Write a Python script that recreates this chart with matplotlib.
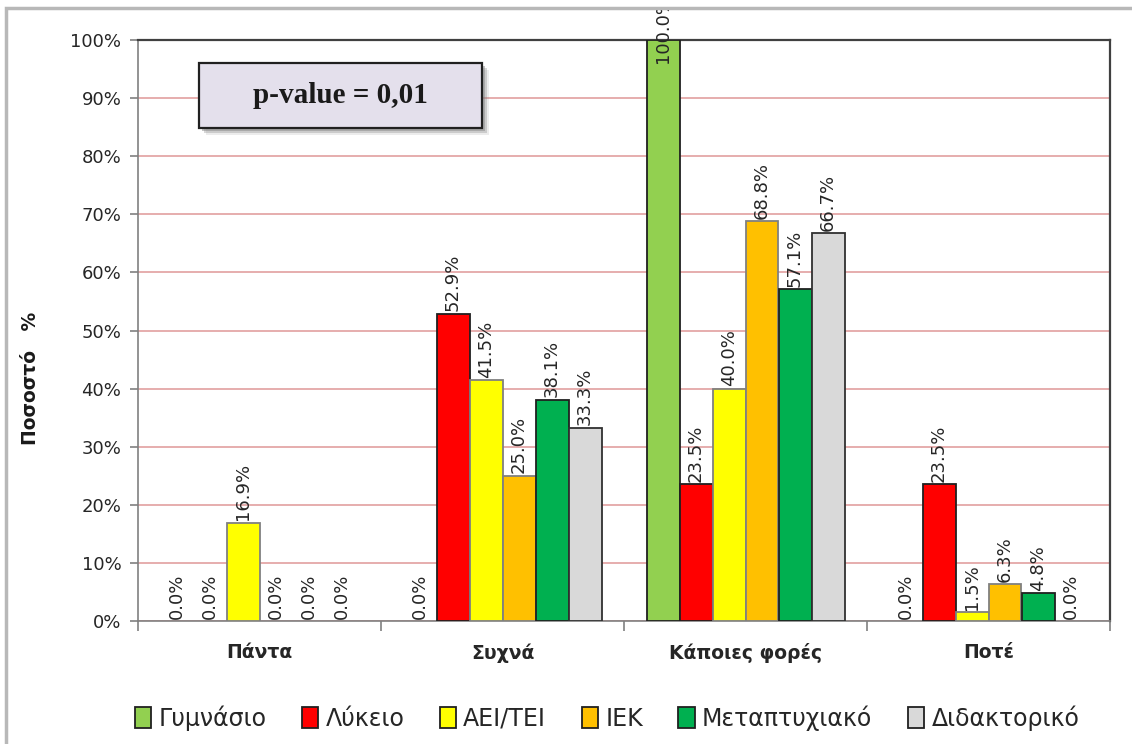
import numpy as np
import matplotlib.pyplot as plt
from matplotlib.patches import Rectangle
from matplotlib.ticker import MultipleLocator, FuncFormatter
from matplotlib.transforms import Bbox, TransformedBbox

categories = ["Πάντα", "Συχνά", "Κάποιες φορές", "Ποτέ"]
series_names = ["Γυμνάσιο", "Λύκειο", "ΑΕΙ/ΤΕΙ", "ΙΕΚ", "Μεταπτυχιακό", "Διδακτορικό"]
gymnasio = [0.0, 0.0, 100.0, 0.0]
lykeio = [0.0, 52.9, 23.5, 23.5]
aei_tei = [16.9, 41.5, 40.0, 1.5]
iek = [0.0, 25.0, 68.8, 6.3]
metaptyxiako = [0.0, 38.1, 57.1, 4.8]
didaktoriko = [0.0, 33.3, 66.7, 0.0]
series_values = [gymnasio, lykeio, aei_tei, iek, metaptyxiako, didaktoriko]

colors = ["#92d050", "#ff0000", "#ffff00", "#ffc000", "#00b050", "#d9d9d9"]
edges = ["#202020", "#202020", "#808080", "#808080", "#202020", "#303030"]

fig = plt.figure(figsize=(11.32, 7.44), dpi=100)
ax = fig.add_axes([138 / 1132, 1 - 621 / 744, 972 / 1132, 581 / 744])

# outer chart frame (right/bottom edges fall outside the canvas)
frame_top = 1 - 8 / 744
fig.patches.append(Rectangle((6 / 1132, -0.1), 1.2, frame_top + 0.1,
                             transform=fig.transFigure, fill=False,
                             edgecolor="#b8b8b8", linewidth=2.5))
frame_clip = TransformedBbox(Bbox([[0, 0], [1, frame_top]]), fig.transFigure)

x = np.arange(len(categories))
width = 33 / 243
for i, (name, vals) in enumerate(zip(series_names, series_values)):
    pos = x + (i - 2.5) * width
    vals = np.array(vals)
    # zero-height bars would leave a stray edge line on the axis
    shown = vals > 0
    ax.bar(pos[shown], vals[shown], width, color=colors[i], edgecolor=edges[i],
           linewidth=1.3, label=name, zorder=3)
    for px, v in zip(pos, vals):
        # labels that would run off the top start inside the bar end
        y = v - 4 if v > 90 else v + 0.4
        t = ax.text(px, y, f"{v:.1f}%", rotation=90, ha="center",
                    va="bottom", fontsize=13, color="#262626", zorder=4)
        t.set_clip_on(True)
        t.set_clip_box(frame_clip)

ax.set_xlim(-0.5, 3.5)
ax.set_ylim(0, 100)
ax.yaxis.set_major_locator(MultipleLocator(10))
ax.yaxis.set_major_formatter(FuncFormatter(lambda v, p: f"{v:.0f}%"))
ax.grid(axis="y", color="#e2a0a0", linewidth=1.2, zorder=0)
ax.set_axisbelow(True)

ax.set_xticks([-0.5, 0.5, 1.5, 2.5, 3.5])
ax.set_xticklabels([])
ax.tick_params(axis="x", length=7, color="#808080", width=1.2)
ax.tick_params(axis="y", length=6, color="#808080", width=1.2,
               labelsize=13, labelcolor="#262626", pad=6)
for i, cat in enumerate(categories):
    ax.text(i, -5.5, cat, ha="center", va="center", fontsize=13.5,
            fontweight="bold", color="#262626")

for side in ["top", "right"]:
    ax.spines[side].set_color("#404040")
    ax.spines[side].set_linewidth(1.6)
for side in ["left", "bottom"]:
    ax.spines[side].set_color("#808080")
    ax.spines[side].set_linewidth(1.2)

fig.text(30 / 1132, 1 - 378 / 744, "Ποσοστό   %", rotation=90, ha="center",
         va="center", fontsize=13.5, fontweight="bold", color="#1a1a1a")

# p-value annotation box with a drop shadow
bx, by, bw, bh = 199 / 1132, 1 - 128 / 744, 283 / 1132, 65 / 744
for k, a in [(7, 0.15), (5, 0.3), (3, 0.45)]:
    fig.patches.append(Rectangle((bx + k / 1132, by - k / 744), bw, bh,
                                 transform=fig.transFigure, facecolor="#808080",
                                 edgecolor="none", alpha=a, zorder=5))
fig.patches.append(Rectangle((bx, by), bw, bh, transform=fig.transFigure,
                             facecolor="#e4e0ec", edgecolor="#202020",
                             linewidth=1.6, zorder=6))
fig.text(bx + bw / 2, by + bh / 2, "p-value = 0,01", ha="center",
         va="center", fontsize=21, fontweight="bold",
         family="Liberation Serif", color="#1a1a1a", zorder=7)

leg = fig.legend(loc="center", bbox_to_anchor=(607 / 1132, 1 - 718 / 744),
                 ncol=6, frameon=False, fontsize=17, handlelength=0.7,
                 handleheight=0.95, handletextpad=0.3, columnspacing=1.5)
for t in leg.get_texts():
    t.set_color("#262626")
for h in leg.legend_handles:
    h.set_edgecolor("#202020")
    h.set_linewidth(1.3)

fig.savefig("out.png", dpi=100)
